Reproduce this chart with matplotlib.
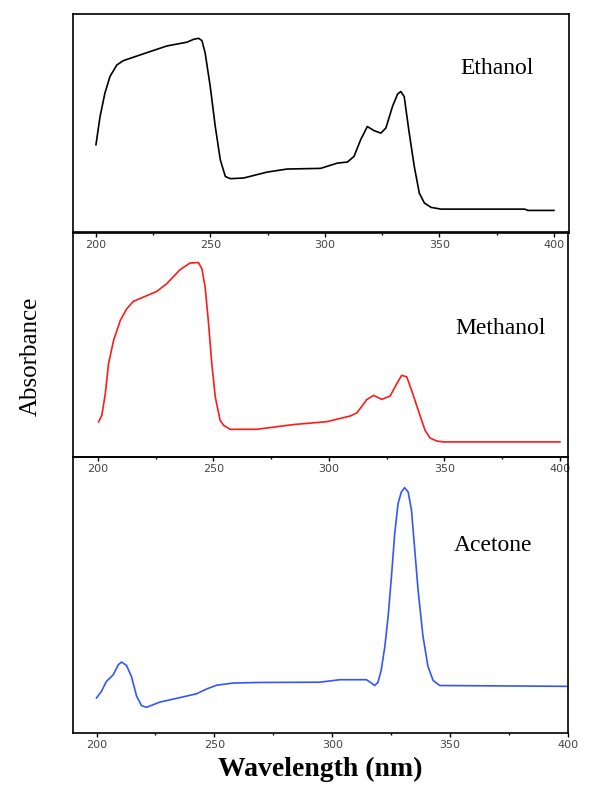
import matplotlib
matplotlib.use('Agg')
import matplotlib.pyplot as plt

# Ethanol spectrum (wavelength nm, relative absorbance)
wl_eth = [200, 201.8, 203.9, 206.1, 209.1, 212, 220.7, 231, 239.7, 242.6, 244.8, 246.3,
          247.7, 249.9, 252.1, 254.3, 256.5, 258.7, 264.5, 274.7, 283.5, 298.1, 305.4,
          309.8, 312.7, 315.6, 318.5, 321.5, 324.4, 326.6, 329.5, 331.7, 333.1, 334.6,
          336.8, 339.0, 341.2, 343.4, 346.3, 350.7, 387.2, 388.6, 400]
abs_eth = [0.403, 0.532, 0.638, 0.714, 0.767, 0.787, 0.818, 0.854, 0.871, 0.884, 0.889, 0.878,
           0.821, 0.669, 0.486, 0.334, 0.258, 0.248, 0.251, 0.278, 0.292, 0.295, 0.319,
           0.324, 0.350, 0.426, 0.486, 0.467, 0.456, 0.479, 0.578, 0.634, 0.646, 0.623,
           0.456, 0.304, 0.182, 0.137, 0.117, 0.109, 0.109, 0.103, 0.103]

# Methanol spectrum
wl_meth = [200.3, 201.7, 203.2, 204.6, 206.8, 209.7, 212.5, 215.4, 221.2, 225.5, 229.8,
           235.6, 239.9, 243.5, 245.0, 246.4, 247.9, 249.3, 250.8, 252.9, 254.4, 257.2,
           268.8, 284.6, 299.1, 309.2, 312.1, 316.4, 319.3, 322.9, 326.5, 329.4, 331.5,
           333.7, 335.8, 338.7, 341.6, 343.8, 346.7, 349.5, 400]
abs_meth = [0.156, 0.185, 0.281, 0.415, 0.519, 0.607, 0.659, 0.692, 0.717, 0.736, 0.770,
            0.833, 0.862, 0.864, 0.837, 0.756, 0.593, 0.415, 0.267, 0.163, 0.141, 0.123,
            0.123, 0.144, 0.157, 0.182, 0.196, 0.255, 0.274, 0.256, 0.271, 0.326, 0.363,
            0.356, 0.296, 0.207, 0.119, 0.084, 0.071, 0.067, 0.067]

# Acetone spectrum
wl_acet = [200, 202.1, 204.2, 207.1, 209.2, 210.6, 212.7, 214.8, 217.0, 219.1, 221.2,
           226.9, 235.3, 242.4, 246.6, 250.9, 258.0, 269.3, 294.7, 303.2, 314.5, 316.6,
           318.0, 319.4, 320.8, 322.3, 323.7, 325.1, 326.5, 327.9, 329.3, 330.7, 332.2,
           333.6, 335.0, 336.4, 338.5, 340.6, 342.8, 345.6, 400]
abs_acet = [0.127, 0.151, 0.187, 0.211, 0.247, 0.257, 0.245, 0.205, 0.133, 0.099, 0.093,
            0.112, 0.128, 0.142, 0.159, 0.173, 0.181, 0.183, 0.184, 0.193, 0.193, 0.181,
            0.172, 0.184, 0.229, 0.313, 0.422, 0.566, 0.723, 0.831, 0.873, 0.889, 0.873,
            0.807, 0.663, 0.518, 0.349, 0.241, 0.190, 0.172, 0.169]

xticks = [200, 250, 300, 350, 400]

fig = plt.figure(figsize=(6.08, 7.89), dpi=100)

# panels placed by hand, like the pasted original
ax1 = fig.add_axes([0.12, 0.7047, 0.8158, 0.2776])
ax2 = fig.add_axes([0.12, 0.4208, 0.8142, 0.2852])
ax3 = fig.add_axes([0.12, 0.0710, 0.8142, 0.3498])

panels = [
    (ax1, wl_eth, abs_eth, 'black', 'Ethanol', (189.96, 406.55), 0.753, 0.855),
    (ax2, wl_meth, abs_meth, '#ff1a1a', 'Methanol', (189.2, 403.5), 0.573, 0.863),
    (ax3, wl_acet, abs_acet, '#3355ff', 'Acetone', (190, 400), 0.681, 0.848),
]

for ax, x, y, c, name, xl, ty, tx in panels:
    ax.set_facecolor('none')
    ax.plot(x, y, color=c, lw=1.2)
    ax.set_xlim(*xl)
    ax.set_ylim(0, 1)
    ax.set_yticks([])
    ax.set_xticks(xticks)
    ax.set_xticks([225, 275, 325, 375], minor=True)
    ax.tick_params(axis='x', which='major', direction='out', length=3, width=1,
                   labelsize=8, labelcolor='#444444', pad=2)
    ax.tick_params(axis='x', which='minor', direction='out', length=1.5, width=1)
    for s in ax.spines.values():
        s.set_linewidth(1.2)
    ax.text(tx, ty, name, transform=ax.transAxes, ha='center', va='center',
            family='Liberation Serif', fontsize=17)

ax3.set_xlabel('Wavelength (nm)', family='Liberation Serif', fontweight='bold',
               fontsize=20, labelpad=5)
fig.text(0.05, 0.548, 'Absorbance', rotation=90, ha='center', va='center',
         family='Liberation Serif', fontsize=18)

fig.savefig('out.png', dpi=100)
